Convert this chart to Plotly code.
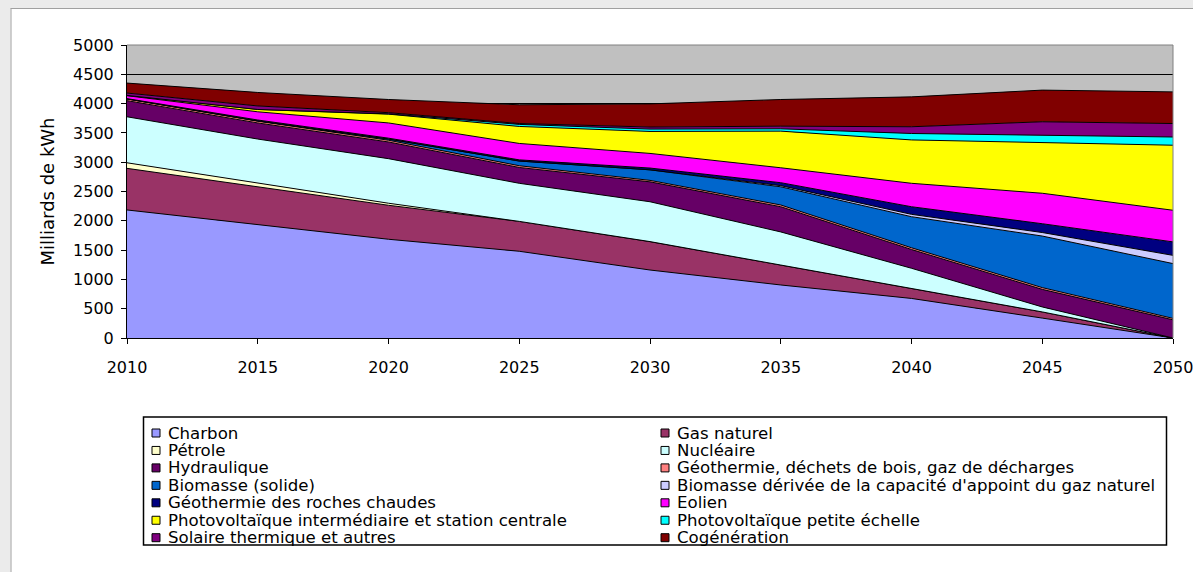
import plotly.graph_objects as go

# Production d'électricité par source (milliards de kWh)
years = [2010, 2015, 2020, 2025, 2030, 2035, 2040, 2045, 2050]

charbon = [2185, 1940, 1685, 1480, 1160, 905, 675, 340, 0]
gas_naturel = [710, 645, 580, 510, 485, 340, 170, 105, 0]
petrole = [95, 65, 35, 0, 0, 0, 0, 0, 0]
nucleaire = [785, 745, 760, 650, 680, 565, 345, 85, 0]
hydraulique = [275, 275, 285, 270, 340, 430, 320, 300, 310]
geo_dechets = [30, 30, 30, 30, 25, 30, 30, 30, 25]
biomasse_solide = [0, 5, 20, 80, 180, 310, 530, 880, 935]
biomasse_gaz = [0, 0, 0, 0, 0, 20, 40, 60, 140]
geo_roches = [5, 15, 15, 20, 30, 50, 130, 150, 230]
eolien = [50, 140, 260, 280, 250, 255, 400, 520, 540]
pv_centrale = [5, 40, 150, 290, 375, 625, 740, 860, 1110]
pv_petite = [0, 0, 5, 35, 40, 40, 110, 130, 140]
solaire_thermique = [40, 60, 20, 15, 35, 45, 115, 230, 230]
cogeneration = [170, 230, 225, 320, 395, 455, 510, 540, 540]

series_names = [
    "Charbon", "Gas naturel", "Pétrole", "Nucléaire", "Hydraulique",
    "Géothermie, déchets de bois, gaz de décharges", "Biomasse (solide)",
    "Biomasse dérivée de la capacité d'appoint du gaz naturel",
    "Géothermie des roches chaudes", "Eolien",
    "Photovoltaïque intermédiaire et station centrale",
    "Photovoltaïque petite échelle", "Solaire thermique et autres",
    "Cogénération",
]
series_values = [
    charbon, gas_naturel, petrole, nucleaire, hydraulique, geo_dechets,
    biomasse_solide, biomasse_gaz, geo_roches, eolien, pv_centrale,
    pv_petite, solaire_thermique, cogeneration,
]
series_colors = [
    "#9999ff", "#993366", "#ffffcc", "#ccffff", "#660066", "#ff8080",
    "#0066cc", "#ccccff", "#000080", "#ff00ff", "#ffff00", "#00ffff",
    "#800080", "#800000",
]

year_ticks = [2010, 2015, 2020, 2025, 2030, 2035, 2040, 2045, 2050]
value_ticks = [0, 500, 1000, 1500, 2000, 2500, 3000, 3500, 4000, 4500, 5000]
value_tick_text = [str(v) for v in value_ticks]

W, H = 1193, 572
L, R, T, B = 127, 1173, 45, 338  # plot area in pixels

FONT = "DejaVu Sans"

fig = go.Figure()
for name, vals, col in zip(series_names, series_values, series_colors):
    fig.add_trace(go.Scatter(
        x=years, y=vals, name=name, mode="lines",
        stackgroup="one", fillcolor=col,
        line=dict(color="#000000", width=1),
        showlegend=False, hoverinfo="x+y+name",
    ))


def px_x(p):
    return (p - L) / (R - L)


def px_y(p):
    return (B - p) / (B - T)


shapes = []
# page frame: grey strips at top and left, white panel elsewhere
shapes.append(dict(type="rect", xref="paper", yref="paper", layer="below",
                   x0=px_x(0), x1=px_x(W), y0=px_y(0), y1=px_y(8.5),
                   fillcolor="#ebebeb", line=dict(width=0)))
shapes.append(dict(type="rect", xref="paper", yref="paper", layer="below",
                   x0=px_x(0), x1=px_x(10.5), y0=px_y(0), y1=px_y(H),
                   fillcolor="#ebebeb", line=dict(width=0)))
shapes.append(dict(type="line", xref="paper", yref="paper", layer="below",
                   x0=px_x(10.5), x1=px_x(W), y0=px_y(8.5), y1=px_y(8.5),
                   line=dict(color="#a0a0a0", width=1)))
shapes.append(dict(type="line", xref="paper", yref="paper", layer="below",
                   x0=px_x(11), x1=px_x(11), y0=px_y(8.5), y1=px_y(H),
                   line=dict(color="#a0a0a0", width=1)))
# plot-area border (top and right)
shapes.append(dict(type="line", xref="paper", yref="paper", layer="above",
                   x0=0, x1=1, y0=1, y1=1,
                   line=dict(color="#808080", width=1)))
shapes.append(dict(type="line", xref="paper", yref="paper", layer="above",
                   x0=1, x1=1, y0=0, y1=1,
                   line=dict(color="#808080", width=1)))

# legend box
LEG_X0, LEG_X1, LEG_Y0, LEG_Y1 = 143.5, 1166.5, 417, 545
shapes.append(dict(type="rect", xref="paper", yref="paper",
                   x0=px_x(LEG_X0), x1=px_x(LEG_X1),
                   y0=px_y(LEG_Y1), y1=px_y(LEG_Y0),
                   fillcolor="#ffffff", line=dict(color="#000000", width=1.5)))

annotations = []
row_y0, row_step = 433, 17.45
col_x = [152, 661]
for i, (name, col) in enumerate(zip(series_names, series_colors)):
    r, c = divmod(i, 2)
    cy = row_y0 + r * row_step
    sx = col_x[c]
    shapes.append(dict(type="rect", xref="paper", yref="paper",
                       x0=px_x(sx), x1=px_x(sx + 8),
                       y0=px_y(cy + 4), y1=px_y(cy - 4),
                       fillcolor=col, line=dict(color="#000000", width=1)))
    annotations.append(dict(xref="paper", yref="paper",
                            x=px_x(sx + 14), y=px_y(cy),
                            xanchor="left", yanchor="middle", showarrow=False,
                            text=name,
                            font=dict(family=FONT, size=16.6, color="#000000")))

annotations.append(dict(xref="paper", yref="paper", x=px_x(47), y=0.5,
                        text="Milliards de kWh", textangle=-90, showarrow=False,
                        xanchor="center", yanchor="middle",
                        font=dict(family=FONT, size=18, color="#000000")))

fig.update_layout(
    width=W, height=H, autosize=False,
    margin=dict(l=L, r=W - R, t=T, b=H - B, pad=0, autoexpand=False),
    paper_bgcolor="#ffffff", plot_bgcolor="#c0c0c0",
    showlegend=False,
    shapes=shapes, annotations=annotations,
    font=dict(family=FONT, size=16, color="#000000"),
)
fig.update_xaxes(
    range=[2010, 2050], tickvals=year_ticks, ticktext=[str(y) for y in year_ticks],
    ticks="outside", ticklen=5, tickcolor="#000000", tickwidth=1,
    showline=True, linecolor="#000000", linewidth=1,
    showgrid=False, zeroline=False, ticklabelstandoff=10,
    ticklabeloverflow="allow", automargin=False,
    tickfont=dict(family=FONT, size=16, color="#000000"),
)
fig.update_yaxes(
    range=[0, 5000], tickvals=value_ticks, ticktext=value_tick_text,
    ticks="outside", ticklen=5, tickcolor="#000000", tickwidth=1,
    showline=True, linecolor="#000000", linewidth=1,
    showgrid=True, gridcolor="#000000", gridwidth=1,
    zeroline=False, ticklabelstandoff=4, automargin=False,
    tickfont=dict(family=FONT, size=16, color="#000000"),
)

fig.write_html("out.html")
